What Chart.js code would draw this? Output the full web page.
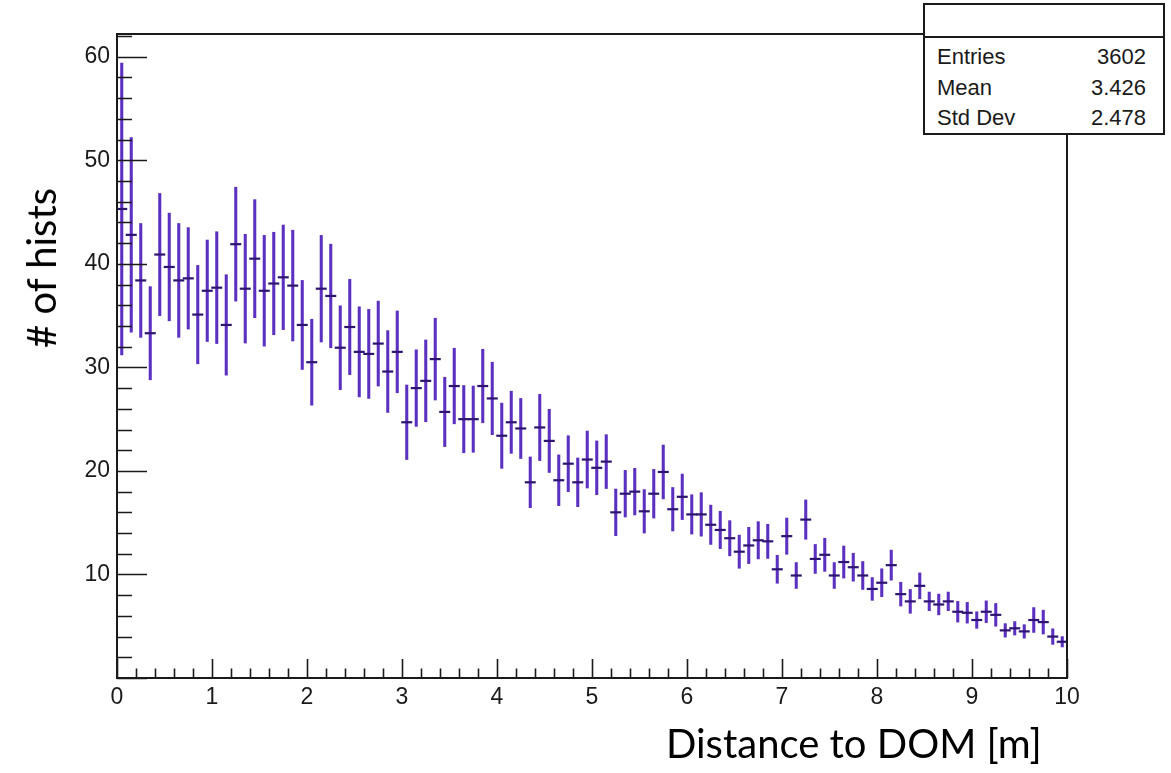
<!DOCTYPE html>
<html>
<head>
<meta charset="utf-8">
<script src="https://cdn.jsdelivr.net/npm/chart.js@4"></script>
<style>
  body { margin: 0; background: #fff; }
  #wrap { position: relative; width: 1171px; height: 773px; background: #fff; overflow: hidden; }
  #plot { position: absolute; left: 0; top: 0; }
  .title { position: absolute; font-family: Lato, "Open Sans", sans-serif; color: #000; white-space: nowrap; }
  #xtitle { left: 666px; top: 719px; font-size: 40px; }
  #ytitle { left: 41px; top: 268px; font-size: 40px; transform: translate(-50%, -50%) rotate(-90deg); }
  #stats { position: absolute; left: 923px; top: 3px; width: 238px; height: 128px; border: 2px solid #1a1a1a; background: #fff;
           font-family: "Liberation Sans", Arial, sans-serif; font-size: 22px; color: #1a1a1a; }
  #stats .sep { position: absolute; left: 0; right: 0; top: 31px; border-top: 2px solid #1a1a1a; }
  #stats .row { position: absolute; left: 12px; right: 17px; height: 30px; }
  #stats .row span:last-child { position: absolute; right: 0; }
</style>
</head>
<body>
<div id="wrap">
  <canvas id="plot" width="1171" height="773"></canvas>
  <div class="title" id="xtitle">Distance to DOM [m]</div>
  <div class="title" id="ytitle"># of hists</div>
  <div id="stats">
    <div class="sep"></div>
    <div class="row" style="top:39px"><span>Entries</span><span>3602</span></div>
    <div class="row" style="top:70px"><span>Mean</span><span>3.426</span></div>
    <div class="row" style="top:100px"><span>Std Dev</span><span>2.478</span></div>
  </div>
</div>
<script>
// bin centres of the 100 bins, 0..10 m
const binCenters = [
  0.05, 0.15, 0.25, 0.35, 0.45, 0.55, 0.65, 0.75, 0.85, 0.95,
  1.05, 1.15, 1.25, 1.35, 1.45, 1.55, 1.65, 1.75, 1.85, 1.95,
  2.05, 2.15, 2.25, 2.35, 2.45, 2.55, 2.65, 2.75, 2.85, 2.95,
  3.05, 3.15, 3.25, 3.35, 3.45, 3.55, 3.65, 3.75, 3.85, 3.95,
  4.05, 4.15, 4.25, 4.35, 4.45, 4.55, 4.65, 4.75, 4.85, 4.95,
  5.05, 5.15, 5.25, 5.35, 5.45, 5.55, 5.65, 5.75, 5.85, 5.95,
  6.05, 6.15, 6.25, 6.35, 6.45, 6.55, 6.65, 6.75, 6.85, 6.95,
  7.05, 7.15, 7.25, 7.35, 7.45, 7.55, 7.65, 7.75, 7.85, 7.95,
  8.05, 8.15, 8.25, 8.35, 8.45, 8.55, 8.65, 8.75, 8.85, 8.95,
  9.05, 9.15, 9.25, 9.35, 9.45, 9.55, 9.65, 9.75, 9.85, 9.95
];

const counts = [
  45.3, 42.8, 38.4, 33.3, 40.9, 39.7, 38.4, 38.6, 35.1, 37.4,
  37.7, 34.1, 41.9, 37.6, 40.5, 37.4, 38.1, 38.7, 37.9, 34.1,
  30.5, 37.6, 36.9, 31.9, 33.9, 31.5, 31.3, 32.3, 29.6, 31.5,
  24.7, 28.0, 28.7, 30.8, 25.7, 28.2, 25.0, 25.0, 28.2, 27.0,
  23.4, 24.7, 24.1, 18.9, 24.2, 22.9, 19.1, 20.7, 18.9, 21.1,
  20.3, 20.9, 16.0, 17.8, 18.0, 16.1, 17.8, 19.9, 16.3, 17.5,
  15.8, 15.8, 14.8, 14.3, 13.5, 12.2, 12.8, 13.3, 13.2, 10.5,
  13.7, 9.9, 15.3, 11.5, 11.9, 9.9, 11.2, 10.7, 9.9, 8.6,
  9.2, 10.9, 8.1, 7.4, 8.9, 7.4, 7.1, 7.4, 6.4, 6.3,
  5.6, 6.4, 6.1, 4.6, 4.8, 4.5, 5.6, 5.4, 4.0, 3.5
];

const errors = [
  14.1, 9.4, 5.5, 4.5, 5.9, 5.2, 5.5, 4.9, 4.75, 4.9,
  5.4, 4.85, 5.5, 5.25, 5.7, 5.35, 4.95, 5.05, 5.35, 4.3,
  4.15, 5.15, 5.0, 4.05, 4.6, 4.35, 4.3, 4.1, 3.95, 3.95,
  3.6, 3.7, 3.95, 3.95, 3.35, 3.65, 3.25, 3.2, 3.55, 3.5,
  3.15, 3.0, 2.9, 2.45, 3.2, 3.05, 2.45, 2.7, 2.35, 2.75,
  2.6, 2.6, 2.25, 2.25, 2.25, 2.1, 2.35, 2.6, 2.1, 2.2,
  1.9, 2.1, 1.9, 1.8, 1.7, 1.6, 1.75, 1.8, 1.65, 1.35,
  1.75, 1.25, 1.9, 1.4, 1.6, 1.25, 1.55, 1.35, 1.35, 1.1,
  1.35, 1.45, 1.15, 1.15, 1.25, 0.9, 1.0, 0.9, 1.0, 1.0,
  0.8, 1.05, 1.1, 0.65, 0.65, 0.65, 1.2, 1.15, 0.75, 0.5
];

const xTicks = [0, 1, 2, 3, 4, 5, 6, 7, 8, 9, 10];
const yTicks = [10, 20, 30, 40, 50, 60];

const errorBars = binCenters.map((x, i) => ({ x: x, y: [counts[i] - errors[i], counts[i] + errors[i]] }));
const markers = binCenters.map((x, i) => ({ x: x, y: counts[i] }));

// ROOT style frame with inward ticks
const framePlugin = {
  id: 'rootFrame',
  afterDatasetsDraw(chart) {
    const { ctx, chartArea: a, scales } = chart;
    const xs = scales.x, ys = scales.y;
    ctx.save();
    ctx.strokeStyle = '#1a1a1a';
    ctx.lineWidth = 1.6;
    ctx.beginPath();
    for (let v = 0; v <= 62; v += 2) {
      const py = Math.round(ys.getPixelForValue(v)) + 0.5;
      const len = v % 10 === 0 ? 30 : 15;
      ctx.moveTo(a.left, py);
      ctx.lineTo(a.left + len, py);
    }
    for (let k = 0; k <= 50; k++) {
      const px = Math.round(xs.getPixelForValue(k / 5)) + 0.5;
      const len = k % 5 === 0 ? 19 : 9.5;
      ctx.moveTo(px, a.bottom);
      ctx.lineTo(px, a.bottom - len);
    }
    ctx.stroke();
    ctx.lineWidth = 2;
    ctx.strokeRect(a.left, a.top, a.right - a.left, a.bottom - a.top);
    ctx.restore();
  }
};

const tickFont = { family: "'Liberation Sans', Arial, sans-serif", size: 23 };

new Chart(document.getElementById('plot'), {
  data: {
    datasets: [
      {
        type: 'bar',
        data: errorBars,
        backgroundColor: '#5b30c0',
        borderWidth: 0,
        barThickness: 2.4,
        grouped: false,
        order: 2
      },
      {
        type: 'scatter',
        data: markers,
        pointStyle: 'line',
        pointRadius: 5.5,
        pointHoverRadius: 5.5,
        borderColor: '#2e1470',
        borderWidth: 2.2,
        order: 1
      }
    ]
  },
  options: {
    responsive: false,
    animation: false,
    events: [],
    layout: { padding: { left: 0, right: 104, top: 34, bottom: 50 } },
    plugins: { legend: { display: false }, tooltip: { enabled: false } },
    scales: {
      x: {
        type: 'linear',
        min: 0,
        max: 10,
        offset: false,
        afterFit(s) { s.height = 45; },
        afterBuildTicks(s) { s.ticks = xTicks.map(v => ({ value: v })); },
        grid: { display: false, offset: false, drawTicks: false },
        border: { display: false },
        ticks: { color: '#1a1a1a', padding: 6, maxRotation: 0, font: tickFont }
      },
      y: {
        type: 'linear',
        min: 0,
        max: 62.2,
        afterFit(s) { s.width = 117; },
        afterBuildTicks(s) { s.ticks = yTicks.map(v => ({ value: v })); },
        grid: { display: false, drawTicks: false },
        border: { display: false },
        ticks: { color: '#1a1a1a', padding: 7, font: tickFont }
      }
    }
  },
  plugins: [framePlugin]
});
</script>
</body>
</html>
